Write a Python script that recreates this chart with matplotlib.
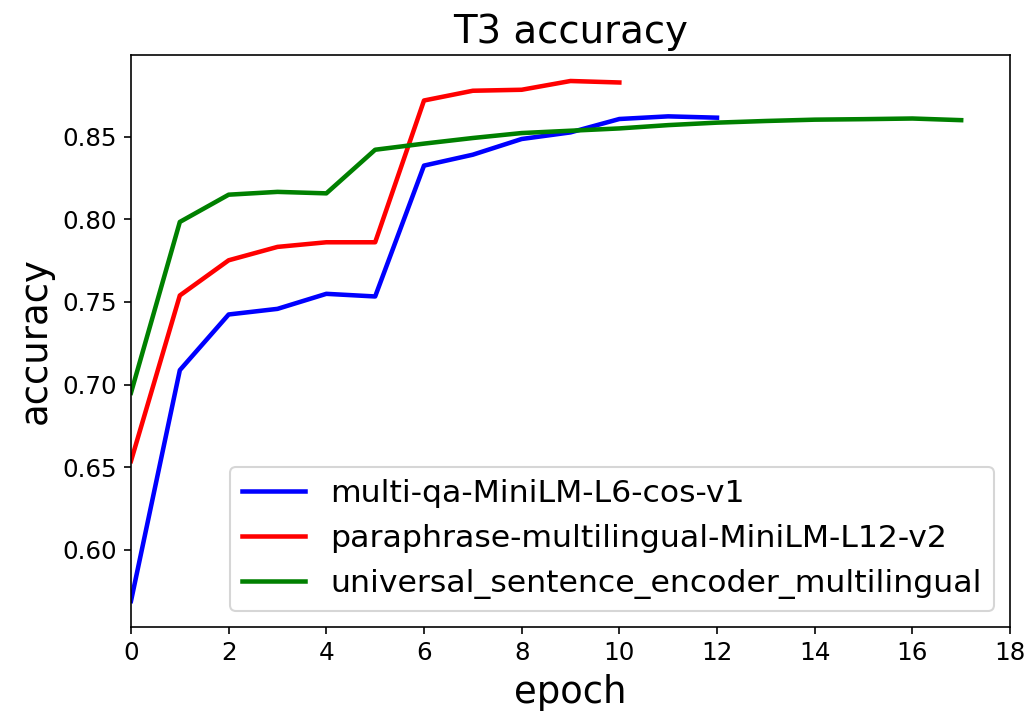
import matplotlib
matplotlib.use("Agg")
import matplotlib.pyplot as plt

# accuracy per epoch for each encoder
epochs_minilm = list(range(13))
acc_minilm = [0.569, 0.7087, 0.7424, 0.7458, 0.7549, 0.7533, 0.8325,
              0.8391, 0.8486, 0.8526, 0.8607, 0.8623, 0.8615]

epochs_para = list(range(11))
acc_para = [0.6537, 0.7539, 0.7752, 0.7833, 0.7861, 0.7861, 0.8719,
            0.8778, 0.8784, 0.8837, 0.8828]

epochs_use = list(range(18))
acc_use = [0.695, 0.7984, 0.8149, 0.8166, 0.8157, 0.8421, 0.8458, 0.8492,
           0.8522, 0.8536, 0.8550, 0.8570, 0.8585, 0.8595, 0.8603, 0.8606,
           0.8610, 0.8600]

labels = ["multi-qa-MiniLM-L6-cos-v1",
          "paraphrase-multilingual-MiniLM-L12-v2",
          "universal_sentence_encoder_multilingual"]

fig = plt.figure(figsize=(1030 / 148, 722 / 148), dpi=148)
ax = fig.add_axes([131 / 1030, 1 - 627 / 722, (1010 - 131) / 1030, (627 - 55) / 722])

ax.plot(epochs_minilm, acc_minilm, color="blue", lw=2.2, label=labels[0])
ax.plot(epochs_para, acc_para, color="red", lw=2.2, label=labels[1])
ax.plot(epochs_use, acc_use, color="green", lw=2.2, label=labels[2])

ax.set_xlim(0, 18)
ax.set_xticks(range(0, 19, 2))
ax.tick_params(labelsize=12)
ax.set_title("T3 accuracy", fontsize=18.8)
ax.set_xlabel("epoch", fontsize=18)
ax.set_ylabel("accuracy", fontsize=18)
ax.legend(loc="lower right", fontsize=15.3)

fig.savefig("out.png", dpi=148)
